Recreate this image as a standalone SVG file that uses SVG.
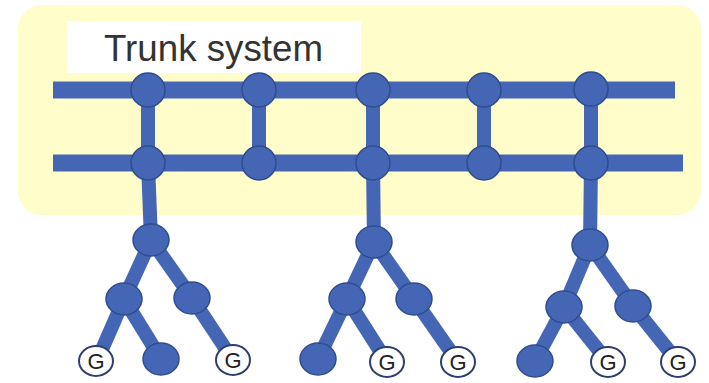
<svg xmlns="http://www.w3.org/2000/svg" width="709" height="383" viewBox="0 0 709 383">
<defs>
<style>
.bar{stroke:#4566B5;stroke-width:17;fill:none;stroke-linecap:butt}
.br{stroke:#4566B5;stroke-width:14;fill:none}
.n{fill:#4566B5;stroke:#2F4C8E;stroke-width:1.5}
.g{fill:#ffffff;stroke:#2F3E6E;stroke-width:2}
.gt{font-family:"Liberation Sans",Arial,sans-serif;font-size:22px;fill:#222;text-anchor:middle}
</style>
</defs>
<rect width="709" height="383" fill="#ffffff"/>
<rect id="trunk-area" x="18" y="5" width="683" height="210" rx="24" fill="#FFFDCA"/>
<g id="label">
<rect x="67" y="21" width="294" height="52" fill="#ffffff"/>
<text x="104" y="61" font-family="Liberation Sans,Arial,sans-serif" font-size="36.5" fill="#333" textLength="219" lengthAdjust="spacingAndGlyphs">Trunk system</text>
</g>
<g id="connectors">
<line class="bar" x1="53" y1="90" x2="675" y2="90"/>
<line class="bar" x1="53" y1="163" x2="683" y2="163"/>
<line class="br" x1="148" y1="90" x2="148" y2="163"/>
<line class="br" x1="259" y1="90" x2="259" y2="163"/>
<line class="br" x1="373" y1="90" x2="373" y2="163"/>
<line class="br" x1="484" y1="90" x2="484" y2="163"/>
<line class="br" x1="591" y1="90" x2="591" y2="163"/>
<line class="br" x1="148" y1="163" x2="151" y2="240"/>
<line class="br" x1="373" y1="163" x2="374" y2="242"/>
<line class="br" x1="591" y1="163" x2="590" y2="245"/>
<line class="br" x1="151" y1="240" x2="124" y2="299"/>
<line class="br" x1="151" y1="240" x2="192" y2="298"/>
<line class="br" x1="124" y1="299" x2="97" y2="361"/>
<line class="br" x1="124" y1="299" x2="161" y2="359"/>
<line class="br" x1="192" y1="298" x2="233" y2="360"/>
<line class="br" x1="374" y1="242" x2="347" y2="299"/>
<line class="br" x1="374" y1="242" x2="414" y2="299"/>
<line class="br" x1="347" y1="299" x2="318" y2="359"/>
<line class="br" x1="347" y1="299" x2="387" y2="362"/>
<line class="br" x1="414" y1="299" x2="458" y2="362"/>
<line class="br" x1="590" y1="245" x2="564" y2="307"/>
<line class="br" x1="590" y1="245" x2="633" y2="306"/>
<line class="br" x1="564" y1="307" x2="535" y2="361"/>
<line class="br" x1="564" y1="307" x2="608" y2="362"/>
<line class="br" x1="633" y1="306" x2="678" y2="362"/>
</g>
<g id="trunk-nodes">
<ellipse id="t1" class="n" cx="148" cy="90" rx="17" ry="17"/>
<ellipse id="t2" class="n" cx="259" cy="90" rx="17" ry="17"/>
<ellipse id="t3" class="n" cx="373" cy="90" rx="17" ry="17"/>
<ellipse id="t4" class="n" cx="484" cy="90" rx="17" ry="17"/>
<ellipse id="t5" class="n" cx="591" cy="89" rx="17" ry="17"/>
<ellipse id="b1" class="n" cx="148" cy="163" rx="17" ry="17"/>
<ellipse id="b2" class="n" cx="259" cy="163" rx="17" ry="17"/>
<ellipse id="b3" class="n" cx="373" cy="163" rx="17" ry="17"/>
<ellipse id="b4" class="n" cx="484" cy="163" rx="17" ry="17"/>
<ellipse id="b5" class="n" cx="591" cy="163" rx="17" ry="17"/>
</g>
<g id="tree1">
<ellipse id="r1" class="n" cx="151" cy="240" rx="18" ry="16"/>
<ellipse id="c1a" class="n" cx="124" cy="299" rx="18" ry="16"/>
<ellipse id="c1b" class="n" cx="192" cy="298" rx="18" ry="16"/>
<ellipse id="l1b" class="n" cx="161" cy="359" rx="18" ry="16"/>
<g id="g1a"><ellipse class="g" cx="96" cy="361" rx="17" ry="15"/><text class="gt" x="96" y="369">G</text></g>
<g id="g1b"><ellipse class="g" cx="233" cy="360" rx="17" ry="15"/><text class="gt" x="233" y="368">G</text></g>
</g>
<g id="tree2">
<ellipse id="r2" class="n" cx="374" cy="242" rx="18" ry="16"/>
<ellipse id="c2a" class="n" cx="347" cy="299" rx="18" ry="16"/>
<ellipse id="c2b" class="n" cx="414" cy="299" rx="18" ry="16"/>
<ellipse id="l2a" class="n" cx="318" cy="359" rx="18" ry="16"/>
<g id="g2a"><ellipse class="g" cx="387" cy="362" rx="17" ry="15"/><text class="gt" x="387" y="370">G</text></g>
<g id="g2b"><ellipse class="g" cx="458" cy="362" rx="17" ry="15"/><text class="gt" x="458" y="370">G</text></g>
</g>
<g id="tree3">
<ellipse id="r3" class="n" cx="590" cy="245" rx="18" ry="16"/>
<ellipse id="c3a" class="n" cx="564" cy="307" rx="18" ry="16"/>
<ellipse id="c3b" class="n" cx="633" cy="306" rx="18" ry="16"/>
<ellipse id="l3a" class="n" cx="535" cy="361" rx="18" ry="16"/>
<g id="g3a"><ellipse class="g" cx="608" cy="362" rx="17" ry="15"/><text class="gt" x="608" y="370">G</text></g>
<g id="g3b"><ellipse class="g" cx="678" cy="362" rx="17" ry="15"/><text class="gt" x="678" y="370">G</text></g>
</g>
</svg>
